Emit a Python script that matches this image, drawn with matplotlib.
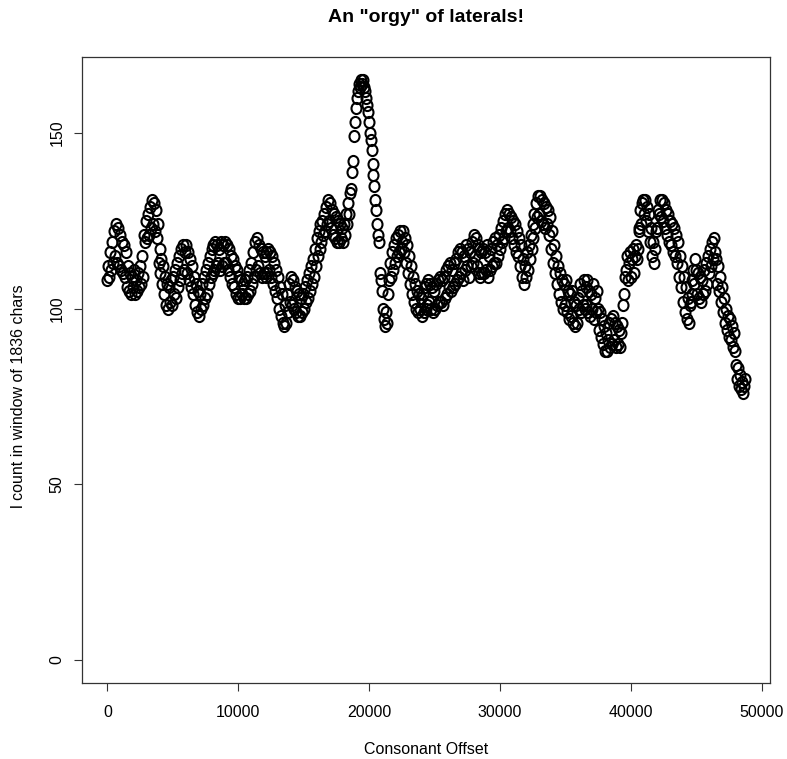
import numpy as np
import matplotlib
matplotlib.use('Agg')
import matplotlib.pyplot as plt
from matplotlib.path import Path
from matplotlib.transforms import Affine2D

# window step between successive samples (chars)
OFFSET_STEP = 75

# l count in a sliding window of 1836 chars, one value per step
l_counts = [
    # 0 - 1425
    108, 112, 109, 116, 111, 119, 113, 122, 115, 124, 113, 123, 112, 121, 111, 119, 110, 118, 109, 116,
    # 1500 - 2925
    106, 112, 105, 110, 104, 109, 106, 111, 104, 108, 105, 110, 106, 112, 107, 115, 109, 121, 119, 125,
    # 3000 - 4425
    120, 127, 121, 129, 123, 131, 124, 130, 122, 128, 120, 124, 113, 117, 110, 114, 107, 112, 104, 109,
    # 4500 - 5925
    101, 107, 100, 106, 102, 108, 101, 109, 104, 111, 103, 113, 106, 115, 108, 117, 110, 118, 111, 116,
    # 6000 - 7425
    118, 110, 116, 108, 114, 106, 112, 104, 109, 101, 107, 99, 105, 98, 104, 100, 107, 101, 109, 103,
    # 7500 - 8925
    111, 104, 113, 107, 115, 109, 117, 110, 118, 111, 119, 112, 118, 113, 117, 111, 119, 112, 118, 113,
    # 9000 - 10425
    119, 113, 118, 111, 117, 109, 115, 107, 114, 106, 112, 104, 111, 103, 109, 103, 108, 104, 107, 103,
    # 10500 - 11925
    108, 103, 109, 104, 111, 105, 113, 107, 116, 109, 119, 111, 120, 112, 118, 110, 117, 109, 116, 110,
    # 12000 - 13425
    115, 109, 116, 110, 117, 111, 116, 109, 115, 107, 113, 105, 111, 103, 109, 100, 106, 98, 104, 96,
    # 13500 - 14925
    95, 101, 96, 104, 99, 107, 102, 109, 101, 108, 100, 106, 99, 105, 98, 104, 98, 103, 99, 104,
    # 15000 - 16425
    100, 106, 102, 108, 103, 110, 105, 112, 107, 114, 109, 117, 112, 120, 115, 122, 117, 124, 119, 125,
    # 16500 - 17925
    121, 127, 122, 129, 124, 131, 125, 130, 123, 128, 121, 127, 120, 126, 119, 125, 119, 124, 120, 123,
    # 18000 - 19425
    119, 124, 121, 127, 124, 130, 127, 133, 134, 139, 142, 149, 153, 157, 160, 162, 164, 163, 165, 164,
    # 19500 - 20925
    165, 163, 162, 160, 158, 156, 153, 150, 148, 145, 141, 138, 135, 131, 128, 124, 121, 119, 110, 108,
    # 21000 - 22425
    105, 100, 97, 95, 99, 96, 104, 108, 113, 109, 116, 111, 118, 113, 120, 115, 121, 116, 122, 117,
    # 22500 - 23925
    119, 122, 116, 120, 113, 118, 110, 115, 107, 112, 104, 109, 102, 107, 100, 105, 99, 104, 100, 103,
    # 24000 - 25425
    98, 104, 99, 106, 100, 107, 101, 108, 102, 107, 100, 106, 99, 105, 100, 107, 101, 108, 102, 109,
    # 25500 - 26925
    102, 108, 101, 109, 103, 111, 104, 112, 106, 113, 105, 111, 106, 113, 107, 114, 108, 116, 109, 117,
    # 27000 - 28425
    110, 116, 108, 115, 111, 118, 112, 117, 109, 116, 112, 119, 113, 121, 115, 120, 112, 118, 110, 117,
    # 28500 - 29925
    109, 116, 110, 117, 110, 116, 111, 118, 109, 115, 111, 117, 112, 119, 113, 120, 113, 118, 115, 121,
    # 30000 - 31425
    117, 123, 119, 125, 120, 127, 122, 128, 123, 127, 122, 126, 120, 125, 118, 124, 116, 122, 115, 120,
    # 31500 - 32925
    112, 118, 109, 114, 107, 112, 109, 116, 111, 118, 114, 121, 117, 124, 120, 127, 123, 130, 126, 132,
    # 33000 - 34425
    127, 132, 125, 131, 124, 130, 123, 129, 124, 128, 121, 126, 117, 122, 113, 118, 110, 115, 107, 112,
    # 34500 - 35925
    104, 110, 102, 108, 100, 107, 101, 108, 99, 105, 97, 104, 98, 105, 96, 102, 95, 101, 96, 103,
    # 36000 - 37425
    100, 107, 99, 105, 101, 108, 100, 106, 101, 108, 99, 105, 98, 104, 100, 107, 97, 103, 99, 105,
    # 37500 - 38925
    100, 94, 99, 92, 97, 90, 95, 88, 93, 88, 91, 96, 89, 97, 90, 98, 91, 96, 89, 95,
    # 39000 - 40425
    90, 94, 89, 93, 96, 101, 104, 109, 111, 115, 108, 113, 116, 109, 114, 117, 110, 115, 118, 114,
    # 40500 - 41925
    117, 122, 123, 128, 124, 130, 131, 127, 131, 125, 129, 122, 127, 119, 123, 115, 119, 113, 117, 122,
    # 42000 - 43425
    123, 128, 127, 131, 126, 131, 125, 130, 123, 128, 121, 127, 119, 125, 118, 124, 116, 123, 115, 121,
    # 43500 - 44925
    113, 119, 109, 115, 106, 112, 102, 109, 99, 106, 97, 103, 96, 101, 102, 108, 104, 111, 107, 114,
    # 45000 - 46425
    111, 104, 110, 103, 109, 102, 108, 104, 111, 105, 113, 107, 115, 110, 117, 112, 119, 114, 120, 116,
    # 46500 - 47925
    114, 107, 112, 105, 109, 102, 106, 99, 103, 96, 100, 94, 98, 92, 97, 91, 95, 89, 93, 88,
    # 48000 - 48675
    84, 80, 83, 78, 81, 77, 79, 76, 78, 80,
]

x_ticks = [0, 10000, 20000, 30000, 40000, 50000]
y_ticks = [0, 50, 100, 150]

offsets = np.arange(len(l_counts)) * OFFSET_STEP
counts = np.array(l_counts)

plt.rcParams['font.family'] = ['Liberation Sans', 'DejaVu Sans']

fig = plt.figure(figsize=(7.87, 7.59), dpi=100)
ax = fig.add_axes([0.1042, 0.1001, 0.8742, 0.8248])

# slightly tall open circle, like R's pch=1 after rescaling
ring = Path.unit_circle().transformed(Affine2D().scale(0.9, 1.0))
ax.plot(offsets, counts, linestyle='none', marker=ring, markersize=8,
        markerfacecolor='none', markeredgecolor='black', markeredgewidth=1.5)

# R style 4% padding, y range starting at 0
xr = offsets.max() - offsets.min()
ax.set_xlim(offsets.min() - 0.04 * xr, offsets.max() + 0.04 * xr)
ymax = counts.max()
ax.set_ylim(-0.04 * ymax, ymax * 1.04)

ax.set_xticks(x_ticks)
ax.set_xticklabels([str(t) for t in x_ticks])
ax.set_yticks(y_ticks)
ax.set_yticklabels([str(t) for t in y_ticks], rotation=90, va='center')
ax.tick_params(axis='both', direction='out', length=5.5, width=0.8,
               color='#333333', labelsize=11.5)
ax.tick_params(axis='x', pad=10)
ax.tick_params(axis='y', pad=7)
for s in ax.spines.values():
    s.set_color('#333333')
    s.set_linewidth(0.9)

fig.text(0.541, 0.977, 'An "orgy" of laterals!', ha='center', va='center',
         fontsize=14, fontweight='bold')
ax.set_xlabel('Consonant Offset', fontsize=11.5, labelpad=16)
fig.text(0.023, 0.478, 'l count in window of 1836 chars', rotation=90,
         ha='center', va='center', fontsize=11.5)

fig.savefig('out.png', dpi=100)
